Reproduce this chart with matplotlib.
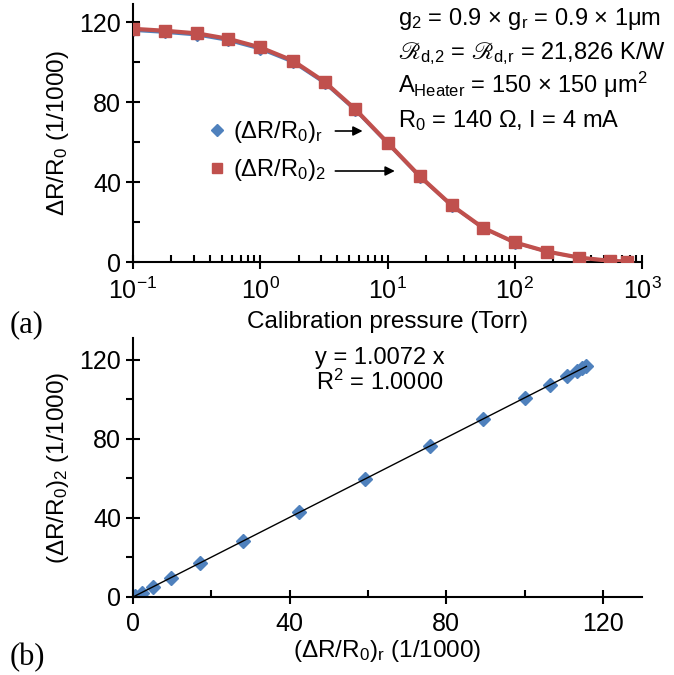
import matplotlib
matplotlib.use("Agg")
import matplotlib.pyplot as plt
from matplotlib.lines import Line2D
import numpy as np

plt.rcParams["font.family"] = ["Liberation Sans", "DejaVu Sans"]
plt.rcParams["mathtext.fontset"] = "custom"
plt.rcParams["mathtext.rm"] = "Liberation Sans"
plt.rcParams["mathtext.it"] = "Liberation Sans:italic"
plt.rcParams["mathtext.default"] = "regular"
plt.rcParams["mathtext.fallback"] = "stix"

# data
pressure = [0.1, 0.18, 0.32, 0.56, 1.0, 1.8, 3.2, 5.6, 10, 18, 32, 56, 100, 180, 320, 560, 760]
dr_r = [115.8, 114.8, 113.5, 110.8, 106.5, 100.0, 89.5, 75.8, 59.3, 42.5, 28.1, 17.1, 9.7, 5.1, 2.2, 0.6, 0.2]
dr_2 = [116.6, 115.6, 114.3, 111.6, 107.3, 100.7, 90.1, 76.3, 59.7, 42.8, 28.3, 17.2, 9.8, 5.2, 2.2, 0.6, 0.2]
slope = 1.0072
r_squared = 1.0000

blue = "#4F81BD"
red = "#C0504D"
fs = 17.5
tfs = 18
afs = 17

fig = plt.figure(figsize=(6.74, 6.75), dpi=100)

def style_axes(ax, yminor_dir):
    for s in ["top", "right"]:
        ax.spines[s].set_visible(False)
    for s in ["left", "bottom"]:
        ax.spines[s].set_linewidth(1.5)
    ax.tick_params(which="major", direction="inout", length=10, width=1.5, labelsize=tfs)
    ax.tick_params(axis="x", which="minor", direction="in", length=5, width=1.5)
    ax.tick_params(axis="y", which="minor", direction=yminor_dir, length=5, width=1.5)

# (a) sensor response vs pressure
ax1 = fig.add_axes([133 / 674, 1 - 262 / 675, 509 / 674, 258 / 675])
ax1.plot(pressure, dr_r, color=blue, lw=2.2, marker="D", ms=6, zorder=2)
ax1.plot(pressure, dr_2, color=red, lw=3, marker="s", ms=8, zorder=3)
ax1.set_xscale("log")
ax1.set_xlim(0.1, 1000)
ax1.set_ylim(0, 129)
ax1.set_yticks([0, 40, 80, 120])
ax1.set_yticks([20, 60, 100], minor=True)
style_axes(ax1, "in")
ax1.tick_params(axis="x", which="major", pad=6)
ax1.set_xlabel("Calibration pressure (Torr)", fontsize=fs, labelpad=5)
ax1.set_ylabel("ΔR/R$_0$ (1/1000)", fontsize=fs, labelpad=6)

handles = [Line2D([], [], ls="none", marker="D", ms=6.5, color=blue),
           Line2D([], [], ls="none", marker="s", ms=7.5, color=red)]
ax1.legend(handles, ["(ΔR/R$_0$)$_r$", "(ΔR/R$_0$)$_2$"], loc="center left",
           bbox_to_anchor=(209 / 674, 1 - 151 / 675), bbox_transform=fig.transFigure,
           frameon=False, fontsize=afs, handlelength=0.7, handletextpad=0.3,
           labelspacing=0.5, borderpad=0, borderaxespad=0)
ax1.annotate("", xy=(6.7, 65.5), xytext=(3.7, 65.5),
             arrowprops=dict(arrowstyle="-|>", color="black", lw=1.2, mutation_scale=14))
ax1.annotate("", xy=(12.0, 45.5), xytext=(3.7, 45.5),
             arrowprops=dict(arrowstyle="-|>", color="black", lw=1.2, mutation_scale=14))

tx = 398 / 674
fig.text(tx, 1 - 25 / 675, "g$_2$ = 0.9 × g$_r$ = 0.9 × 1μm", fontsize=afs, va="baseline")
fig.text(tx, 1 - 59 / 675, "$ℛ_{d{,}2}$ = $ℛ_{d{,}r}$ = 21,826 K/W", fontsize=afs, va="baseline")
fig.text(tx, 1 - 93 / 675, "A$_{Heater}$ = 150 × 150 μm$^2$", fontsize=afs, va="baseline")
fig.text(tx, 1 - 127 / 675, "R$_0$ = 140 Ω, I = 4 mA", fontsize=afs, va="baseline")

# (b) correlation between the two responses
ax2 = fig.add_axes([133 / 674, 1 - 597 / 675, 509 / 674, 259 / 675])
xs = np.array([0, max(dr_r)])
ax2.plot(xs, slope * xs, color="black", lw=1, zorder=3)
ax2.plot(dr_r, dr_2, ls="none", marker="D", ms=7.5, color=blue, zorder=2)
ax2.set_xlim(0, 130)
ax2.set_ylim(0, 131)
ax2.set_xticks([0, 40, 80, 120])
ax2.set_xticks([20, 60, 100], minor=True)
ax2.set_yticks([0, 40, 80, 120])
ax2.set_yticks([20, 60, 100], minor=True)
style_axes(ax2, "out")
ax2.tick_params(axis="x", which="major", pad=6)
ax2.set_xlabel("(ΔR/R$_0$)$_r$ (1/1000)", fontsize=fs, labelpad=1)
ax2.set_ylabel("(ΔR/R$_0$)$_2$ (1/1000)", fontsize=fs, labelpad=6)
ax2.text(63, 118, f"y = {slope:.4f} x", fontsize=afs, ha="center", va="baseline")
ax2.text(63, 104.5, f"R$^2$ = {r_squared:.4f}", fontsize=afs, ha="center", va="baseline")

fig.text(10 / 674, 1 - 332 / 675, "(a)", fontsize=22, family="Liberation Serif", va="baseline")
fig.text(10 / 674, 1 - 665 / 675, "(b)", fontsize=22, family="Liberation Serif", va="baseline")

fig.savefig("out.png", dpi=100)
